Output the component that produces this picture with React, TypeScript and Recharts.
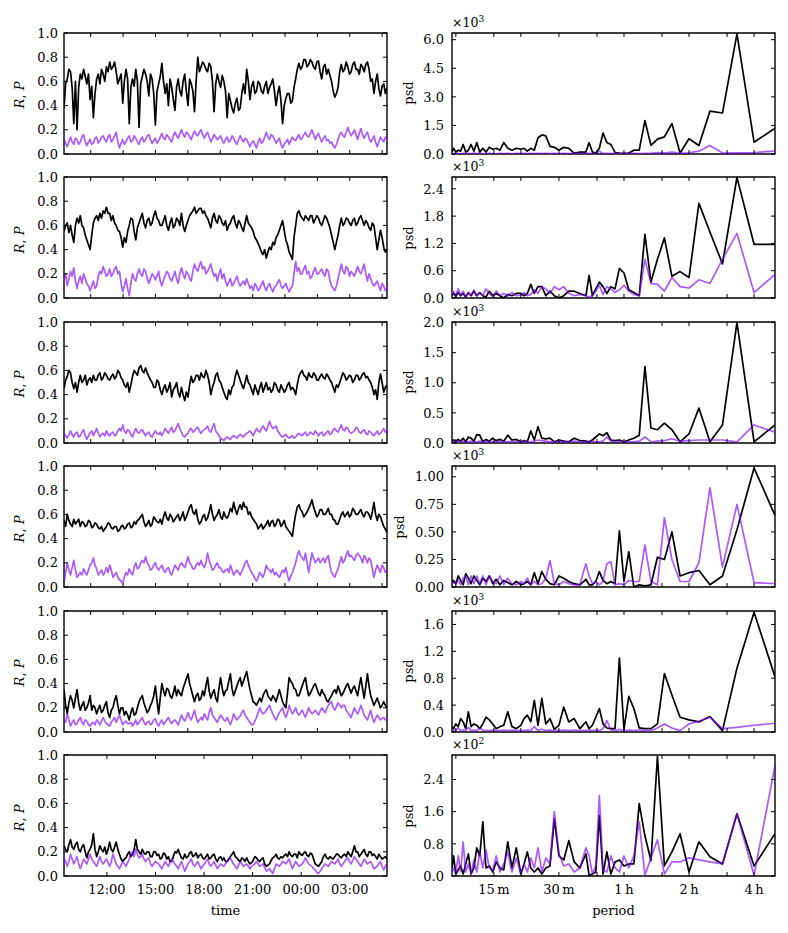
import { Line, LineChart, ReferenceArea, XAxis, YAxis } from "recharts";

// time axis, clock hours (24 + h past midnight)
const HOURS_START = 9.35;
const HOURS_END = 29.3;
const TIME_TICKS_UPPER = [11, 13, 15, 17, 19, 21, 23, 25, 27, 29];
const TIME_TICKS = [12, 15, 18, 21, 24, 27];
const TIME_LABELS = ["12:00", "15:00", "18:00", "21:00", "00:00", "03:00"];

// R (black) and P (purple) per row
const R1 = [
  0.38, 0.58, 0.62, 0.7, 0.68, 0.55, 0.25, 0.6, 0.2, 0.55,
  0.66, 0.62, 0.7, 0.64, 0.58, 0.66, 0.45, 0.56, 0.3, 0.5,
  0.62, 0.66, 0.58, 0.7, 0.66, 0.6, 0.72, 0.68, 0.76, 0.7,
  0.72, 0.76, 0.68, 0.58, 0.62, 0.66, 0.42, 0.6, 0.7, 0.62,
  0.25, 0.55, 0.62, 0.56, 0.7, 0.6, 0.22, 0.58, 0.64, 0.7,
  0.66, 0.6, 0.48, 0.66, 0.62, 0.5, 0.24, 0.52, 0.58, 0.64,
  0.75, 0.6, 0.5, 0.58, 0.4, 0.62, 0.55, 0.45, 0.36, 0.55,
  0.62, 0.52, 0.48, 0.6, 0.66, 0.52, 0.4, 0.62, 0.58, 0.52,
  0.35, 0.6, 0.8, 0.68, 0.72, 0.76, 0.74, 0.7, 0.68, 0.75,
  0.72, 0.6, 0.35, 0.58, 0.66, 0.6, 0.55, 0.65, 0.6, 0.52,
  0.3, 0.5, 0.44, 0.38, 0.34, 0.42, 0.46, 0.36, 0.38, 0.5,
  0.58, 0.5, 0.7, 0.6, 0.45, 0.56, 0.6, 0.5, 0.52, 0.6,
  0.58, 0.52, 0.5, 0.56, 0.6, 0.5, 0.55, 0.58, 0.62, 0.52,
  0.4, 0.5, 0.56, 0.44, 0.25, 0.4, 0.46, 0.5, 0.5, 0.42,
  0.44, 0.55, 0.62, 0.7, 0.75, 0.7, 0.72, 0.78, 0.78, 0.72,
  0.74, 0.78, 0.76, 0.72, 0.7, 0.76, 0.77, 0.68, 0.62, 0.72,
  0.74, 0.66, 0.7, 0.65, 0.6, 0.52, 0.47, 0.5, 0.55, 0.68,
  0.74, 0.68, 0.7, 0.76, 0.72, 0.66, 0.68, 0.74, 0.76, 0.7,
  0.7, 0.66, 0.74, 0.72, 0.68, 0.74, 0.76, 0.7, 0.6, 0.62,
  0.5, 0.6, 0.66, 0.54, 0.48, 0.56, 0.58, 0.5, 0.55,
];
const P1 = [
  0.12, 0.09, 0.06, 0.1, 0.14, 0.1, 0.08, 0.13, 0.12, 0.08,
  0.1, 0.14, 0.16, 0.1, 0.07, 0.1, 0.12, 0.08, 0.09, 0.13,
  0.14, 0.09, 0.11, 0.14, 0.15, 0.12, 0.1, 0.14, 0.16, 0.1,
  0.12, 0.15, 0.18, 0.1, 0.05, 0.09, 0.12, 0.08, 0.1, 0.13,
  0.15, 0.1, 0.11, 0.15, 0.13, 0.1, 0.08, 0.12, 0.14, 0.1,
  0.12, 0.15, 0.16, 0.12, 0.09, 0.11, 0.13, 0.09, 0.11, 0.14,
  0.17, 0.13, 0.12, 0.16, 0.14, 0.12, 0.1, 0.15, 0.18, 0.15,
  0.13, 0.17, 0.2, 0.16, 0.14, 0.18, 0.17, 0.14, 0.12, 0.16,
  0.19, 0.16, 0.15, 0.18, 0.2, 0.16, 0.13, 0.16, 0.18, 0.14,
  0.1, 0.13, 0.16, 0.14, 0.12, 0.13, 0.15, 0.11, 0.09, 0.12,
  0.14, 0.1, 0.11, 0.15, 0.13, 0.1, 0.08, 0.12, 0.15, 0.12,
  0.1, 0.13, 0.12, 0.09, 0.06, 0.09, 0.11, 0.08, 0.05, 0.1,
  0.13, 0.09, 0.1, 0.14, 0.18, 0.14, 0.12, 0.16, 0.15, 0.12,
  0.09, 0.11, 0.13, 0.08, 0.05, 0.08, 0.1, 0.12, 0.08, 0.11,
  0.14, 0.12, 0.11, 0.14, 0.16, 0.12, 0.13, 0.16, 0.18, 0.15,
  0.14, 0.17, 0.2, 0.16, 0.12, 0.15, 0.17, 0.13, 0.1, 0.13,
  0.15, 0.11, 0.12, 0.09, 0.1, 0.07, 0.05, 0.08, 0.12, 0.16,
  0.18, 0.15, 0.14, 0.18, 0.22, 0.18, 0.15, 0.17, 0.2, 0.16,
  0.12, 0.17, 0.21, 0.16, 0.13, 0.16, 0.18, 0.13, 0.1, 0.12,
  0.15, 0.1, 0.06, 0.1, 0.14, 0.12, 0.1, 0.14, 0.12,
];
const R2 = [
  0.55, 0.6, 0.62, 0.54, 0.6, 0.52, 0.46, 0.6, 0.66, 0.62,
  0.68, 0.6, 0.58, 0.52, 0.48, 0.44, 0.4, 0.52, 0.62, 0.66,
  0.68, 0.64, 0.7, 0.66, 0.72, 0.7, 0.75, 0.7, 0.7, 0.64,
  0.68, 0.62, 0.6, 0.56, 0.55, 0.5, 0.42, 0.5, 0.46, 0.55,
  0.6, 0.66, 0.65, 0.55, 0.48, 0.58, 0.62, 0.66, 0.7, 0.62,
  0.58, 0.64, 0.66, 0.6, 0.62, 0.68, 0.72, 0.66, 0.64, 0.6,
  0.6, 0.64, 0.68, 0.6, 0.56, 0.62, 0.66, 0.58, 0.6, 0.66,
  0.64, 0.6, 0.7, 0.6, 0.55, 0.6, 0.64, 0.68, 0.7, 0.72,
  0.75, 0.7, 0.72, 0.74, 0.74, 0.7, 0.72, 0.68, 0.66, 0.62,
  0.58, 0.66, 0.7, 0.64, 0.62, 0.68, 0.66, 0.62, 0.6, 0.64,
  0.56, 0.6, 0.62, 0.66, 0.68, 0.62, 0.58, 0.64, 0.62, 0.58,
  0.55, 0.62, 0.68, 0.62, 0.6, 0.58, 0.55, 0.5, 0.48, 0.45,
  0.42, 0.38, 0.36, 0.4, 0.33, 0.38, 0.42, 0.4, 0.46, 0.44,
  0.5, 0.52, 0.56, 0.6, 0.64, 0.56, 0.48, 0.44, 0.38, 0.35,
  0.32, 0.5, 0.6, 0.7, 0.72, 0.68, 0.66, 0.64, 0.68, 0.66,
  0.64, 0.68, 0.68, 0.62, 0.65, 0.68, 0.66, 0.62, 0.6, 0.64,
  0.68, 0.66, 0.62, 0.58, 0.52, 0.46, 0.4, 0.46, 0.52, 0.6,
  0.66, 0.6, 0.62, 0.66, 0.65, 0.62, 0.6, 0.64, 0.66, 0.6,
  0.62, 0.66, 0.68, 0.64, 0.6, 0.64, 0.62, 0.58, 0.56, 0.62,
  0.6, 0.5, 0.4, 0.48, 0.56, 0.5, 0.42, 0.38, 0.4,
];
const P2 = [
  0.15, 0.2, 0.1, 0.16, 0.22, 0.18, 0.25, 0.14, 0.08, 0.14,
  0.18, 0.12, 0.2, 0.16, 0.12, 0.1, 0.06, 0.1, 0.14, 0.08,
  0.1, 0.18, 0.22, 0.2, 0.26, 0.22, 0.18, 0.2, 0.24, 0.18,
  0.2, 0.24, 0.26, 0.2, 0.22, 0.12, 0.05, 0.1, 0.16, 0.08,
  0.02, 0.12, 0.2, 0.16, 0.14, 0.2, 0.24, 0.2, 0.18, 0.24,
  0.22, 0.16, 0.12, 0.16, 0.2, 0.18, 0.15, 0.18, 0.22, 0.14,
  0.1, 0.15, 0.18, 0.22, 0.2, 0.16, 0.14, 0.18, 0.22, 0.16,
  0.12, 0.2, 0.25, 0.2, 0.16, 0.22, 0.2, 0.16, 0.14, 0.22,
  0.28, 0.24, 0.22, 0.27, 0.3, 0.24, 0.26, 0.2, 0.22, 0.25,
  0.28, 0.22, 0.18, 0.2, 0.14, 0.2, 0.24, 0.16, 0.2, 0.14,
  0.1, 0.13, 0.16, 0.1, 0.12, 0.15, 0.18, 0.13, 0.1, 0.12,
  0.14, 0.11, 0.16, 0.12, 0.08, 0.1, 0.06, 0.12, 0.1, 0.06,
  0.08, 0.11, 0.14, 0.09, 0.06, 0.1, 0.12, 0.08, 0.05, 0.09,
  0.1, 0.13, 0.15, 0.1, 0.08, 0.1, 0.12, 0.08, 0.05, 0.08,
  0.1, 0.2, 0.3, 0.22, 0.25, 0.2, 0.2, 0.24, 0.27, 0.2,
  0.22, 0.16, 0.18, 0.22, 0.25, 0.2, 0.2, 0.22, 0.24, 0.2,
  0.18, 0.24, 0.22, 0.14, 0.1, 0.08, 0.06, 0.1, 0.16, 0.22,
  0.28, 0.22, 0.2, 0.26, 0.24, 0.18, 0.22, 0.2, 0.18, 0.22,
  0.26, 0.22, 0.2, 0.24, 0.28, 0.2, 0.14, 0.2, 0.16, 0.12,
  0.1, 0.12, 0.14, 0.1, 0.06, 0.12, 0.1, 0.06, 0.08,
];
const R3 = [
  0.45, 0.52, 0.55, 0.6, 0.58, 0.5, 0.45, 0.5, 0.42, 0.5,
  0.56, 0.5, 0.52, 0.56, 0.48, 0.52, 0.54, 0.5, 0.56, 0.52,
  0.52, 0.56, 0.58, 0.52, 0.54, 0.58, 0.56, 0.53, 0.52, 0.55,
  0.57, 0.53, 0.55, 0.6, 0.58, 0.54, 0.52, 0.48, 0.46, 0.5,
  0.42, 0.48, 0.55, 0.6, 0.58, 0.56, 0.62, 0.64, 0.6, 0.58,
  0.62, 0.58, 0.55, 0.52, 0.5, 0.46, 0.46, 0.52, 0.5, 0.44,
  0.4, 0.45, 0.48, 0.42, 0.45, 0.5, 0.38, 0.44, 0.46, 0.5,
  0.42, 0.38, 0.46, 0.4, 0.35, 0.42, 0.38, 0.48, 0.55, 0.5,
  0.52, 0.56, 0.56, 0.52, 0.58, 0.55, 0.54, 0.6, 0.56, 0.5,
  0.4, 0.46, 0.5, 0.56, 0.58, 0.52, 0.5, 0.46, 0.42, 0.38,
  0.36, 0.44, 0.4, 0.46, 0.48, 0.55, 0.6, 0.56, 0.52, 0.48,
  0.45, 0.5, 0.56, 0.5, 0.48, 0.44, 0.4, 0.48, 0.44, 0.4,
  0.46, 0.5, 0.42, 0.46, 0.5, 0.44, 0.46, 0.42, 0.44, 0.5,
  0.48, 0.44, 0.42, 0.48, 0.45, 0.42, 0.44, 0.48, 0.5, 0.44,
  0.46, 0.44, 0.4, 0.48, 0.55, 0.58, 0.6, 0.56, 0.55, 0.52,
  0.58, 0.55, 0.54, 0.58, 0.56, 0.52, 0.52, 0.55, 0.57, 0.54,
  0.53, 0.57, 0.55, 0.52, 0.5, 0.46, 0.42, 0.48, 0.46, 0.5,
  0.54, 0.58, 0.56, 0.52, 0.54, 0.56, 0.55, 0.5, 0.52, 0.56,
  0.56, 0.52, 0.54, 0.57, 0.58, 0.54, 0.55, 0.52, 0.5, 0.46,
  0.4, 0.44, 0.36, 0.5, 0.57, 0.5, 0.42, 0.46, 0.48,
];
const P3 = [
  0.08, 0.06, 0.04, 0.07, 0.1, 0.07, 0.05, 0.08, 0.09, 0.05,
  0.06, 0.09, 0.11, 0.06, 0.03, 0.06, 0.08, 0.1, 0.06, 0.09,
  0.12, 0.08, 0.05, 0.07, 0.08, 0.06, 0.1, 0.07, 0.06, 0.08,
  0.09, 0.06, 0.07, 0.1, 0.12, 0.1, 0.15, 0.1, 0.08, 0.11,
  0.1, 0.07, 0.05, 0.09, 0.12, 0.09, 0.08, 0.1, 0.11, 0.08,
  0.06, 0.08, 0.09, 0.06, 0.05, 0.08, 0.1, 0.08, 0.07, 0.09,
  0.06, 0.09, 0.12, 0.1, 0.08, 0.11, 0.13, 0.09, 0.1, 0.13,
  0.16, 0.12, 0.09, 0.06, 0.05, 0.07, 0.08, 0.11, 0.12, 0.09,
  0.1, 0.12, 0.13, 0.1, 0.08, 0.1, 0.11, 0.12, 0.14, 0.1,
  0.09, 0.13, 0.16, 0.1, 0.08, 0.06, 0.04, 0.03, 0.02, 0.04,
  0.05, 0.04, 0.03, 0.05, 0.06, 0.05, 0.04, 0.06, 0.07, 0.06,
  0.05, 0.07, 0.08, 0.09, 0.1, 0.08, 0.06, 0.09, 0.12, 0.1,
  0.09, 0.12, 0.14, 0.12, 0.1, 0.14, 0.18, 0.14, 0.12, 0.13,
  0.14, 0.1, 0.08, 0.06, 0.05, 0.06, 0.07, 0.05, 0.04, 0.05,
  0.06, 0.04, 0.05, 0.07, 0.08, 0.07, 0.06, 0.08, 0.09, 0.06,
  0.07, 0.09, 0.08, 0.07, 0.1, 0.08, 0.06, 0.08, 0.09, 0.06,
  0.07, 0.09, 0.1, 0.07, 0.08, 0.11, 0.12, 0.1, 0.09, 0.12,
  0.15, 0.11, 0.1, 0.13, 0.12, 0.09, 0.08, 0.09, 0.1, 0.13,
  0.12, 0.09, 0.08, 0.1, 0.11, 0.08, 0.07, 0.1, 0.09, 0.07,
  0.06, 0.08, 0.1, 0.07, 0.08, 0.1, 0.12, 0.09, 0.1,
];
const R4 = [
  0.55, 0.5, 0.6, 0.55, 0.52, 0.5, 0.56, 0.52, 0.54, 0.56,
  0.5, 0.54, 0.53, 0.5, 0.51, 0.55, 0.54, 0.49, 0.5, 0.53,
  0.52, 0.49, 0.48, 0.5, 0.46, 0.48, 0.5, 0.53, 0.52, 0.49,
  0.48, 0.5, 0.5, 0.46, 0.47, 0.5, 0.51, 0.48, 0.49, 0.52,
  0.53, 0.49, 0.5, 0.54, 0.52, 0.55, 0.56, 0.58, 0.6, 0.54,
  0.5, 0.52, 0.55, 0.5, 0.52, 0.58, 0.56, 0.54, 0.53, 0.56,
  0.52, 0.58, 0.62, 0.57, 0.55, 0.6, 0.58, 0.54, 0.56, 0.58,
  0.6, 0.55, 0.58, 0.62, 0.55, 0.58, 0.62, 0.66, 0.68, 0.62,
  0.6, 0.64, 0.56, 0.52, 0.54, 0.58, 0.6, 0.55, 0.57, 0.62,
  0.68, 0.6, 0.55, 0.58, 0.6, 0.64, 0.58, 0.56, 0.62, 0.58,
  0.57, 0.6, 0.65, 0.62, 0.7, 0.64, 0.6, 0.65, 0.68, 0.64,
  0.7, 0.66, 0.66, 0.6, 0.62, 0.58, 0.56, 0.54, 0.52, 0.48,
  0.5, 0.52, 0.48, 0.5, 0.52, 0.55, 0.5, 0.54, 0.55, 0.5,
  0.52, 0.56, 0.55, 0.5, 0.52, 0.55, 0.5, 0.48, 0.46, 0.44,
  0.42, 0.52, 0.6, 0.66, 0.68, 0.64, 0.62, 0.58, 0.6, 0.62,
  0.65, 0.68, 0.72, 0.66, 0.62, 0.58, 0.6, 0.64, 0.64, 0.6,
  0.6, 0.62, 0.65, 0.6, 0.6, 0.56, 0.55, 0.52, 0.52, 0.56,
  0.6, 0.62, 0.58, 0.6, 0.62, 0.58, 0.6, 0.65, 0.63, 0.6,
  0.6, 0.62, 0.64, 0.6, 0.58, 0.62, 0.62, 0.6, 0.56, 0.62,
  0.7, 0.6, 0.55, 0.6, 0.58, 0.54, 0.5, 0.48, 0.45,
];
const P4 = [
  0.04, 0.12, 0.2, 0.14, 0.1, 0.16, 0.22, 0.14, 0.08, 0.1,
  0.12, 0.1, 0.15, 0.12, 0.1, 0.14, 0.18, 0.2, 0.24, 0.18,
  0.15, 0.1, 0.12, 0.14, 0.1, 0.12, 0.16, 0.12, 0.18, 0.14,
  0.08, 0.1, 0.12, 0.08, 0.06, 0.05, 0.03, 0.08, 0.12, 0.1,
  0.15, 0.12, 0.1, 0.16, 0.2, 0.15, 0.16, 0.2, 0.22, 0.2,
  0.25, 0.2, 0.18, 0.14, 0.15, 0.18, 0.2, 0.16, 0.14, 0.16,
  0.18, 0.14, 0.12, 0.15, 0.16, 0.12, 0.1, 0.14, 0.18, 0.16,
  0.14, 0.18, 0.2, 0.18, 0.16, 0.2, 0.25, 0.2, 0.18, 0.15,
  0.15, 0.18, 0.2, 0.18, 0.22, 0.18, 0.16, 0.2, 0.28, 0.22,
  0.18, 0.14, 0.15, 0.18, 0.2, 0.16, 0.16, 0.13, 0.12, 0.14,
  0.15, 0.12, 0.18, 0.14, 0.1, 0.12, 0.14, 0.12, 0.1, 0.13,
  0.16, 0.2, 0.22, 0.18, 0.15, 0.12, 0.1, 0.07, 0.05, 0.08,
  0.12, 0.1, 0.08, 0.12, 0.18, 0.15, 0.14, 0.12, 0.15, 0.1,
  0.12, 0.1, 0.08, 0.11, 0.14, 0.12, 0.16, 0.1, 0.05, 0.09,
  0.12, 0.16, 0.2, 0.26, 0.3, 0.26, 0.24, 0.22, 0.28, 0.2,
  0.12, 0.2, 0.28, 0.24, 0.2, 0.22, 0.24, 0.2, 0.22, 0.24,
  0.2, 0.24, 0.26, 0.18, 0.12, 0.1, 0.08, 0.12, 0.15, 0.2,
  0.25, 0.2, 0.22, 0.26, 0.3, 0.25, 0.26, 0.24, 0.22, 0.26,
  0.28, 0.26, 0.24, 0.2, 0.26, 0.24, 0.2, 0.24, 0.22, 0.15,
  0.08, 0.14, 0.18, 0.15, 0.12, 0.18, 0.16, 0.12, 0.14,
];
const R5 = [
  0.35, 0.22, 0.15, 0.24, 0.3, 0.26, 0.2, 0.28, 0.35, 0.24,
  0.18, 0.22, 0.25, 0.18, 0.2, 0.24, 0.3, 0.18, 0.22, 0.2,
  0.15, 0.19, 0.22, 0.16, 0.18, 0.22, 0.25, 0.16, 0.12, 0.18,
  0.2, 0.26, 0.3, 0.22, 0.15, 0.2, 0.2, 0.14, 0.17, 0.14,
  0.1, 0.16, 0.2, 0.14, 0.15, 0.2, 0.25, 0.28, 0.3, 0.24,
  0.2, 0.16, 0.18, 0.22, 0.25, 0.3, 0.38, 0.26, 0.15, 0.28,
  0.4, 0.34, 0.3, 0.36, 0.35, 0.3, 0.28, 0.32, 0.38, 0.3,
  0.35, 0.32, 0.3, 0.36, 0.4, 0.44, 0.48, 0.4, 0.35, 0.3,
  0.25, 0.3, 0.32, 0.26, 0.28, 0.34, 0.3, 0.38, 0.45, 0.34,
  0.28, 0.32, 0.35, 0.28, 0.25, 0.36, 0.45, 0.36, 0.3, 0.34,
  0.35, 0.42, 0.48, 0.36, 0.3, 0.34, 0.38, 0.42, 0.45, 0.38,
  0.42, 0.46, 0.5, 0.42, 0.35, 0.3, 0.25, 0.24, 0.22, 0.25,
  0.28, 0.25, 0.3, 0.33, 0.35, 0.3, 0.28, 0.26, 0.3, 0.28,
  0.25, 0.3, 0.35, 0.3, 0.25, 0.22, 0.2, 0.32, 0.45, 0.42,
  0.4, 0.36, 0.35, 0.3, 0.3, 0.34, 0.38, 0.42, 0.45, 0.36,
  0.3, 0.32, 0.35, 0.38, 0.4, 0.36, 0.32, 0.3, 0.35, 0.32,
  0.3, 0.26, 0.25, 0.28, 0.3, 0.33, 0.35, 0.32, 0.38, 0.34,
  0.3, 0.32, 0.35, 0.38, 0.4, 0.36, 0.32, 0.36, 0.38, 0.34,
  0.3, 0.38, 0.45, 0.36, 0.28, 0.38, 0.48, 0.38, 0.3, 0.26,
  0.22, 0.25, 0.28, 0.24, 0.2, 0.22, 0.25, 0.22, 0.2,
];
const P5 = [
  0.1, 0.08, 0.15, 0.1, 0.05, 0.08, 0.1, 0.06, 0.07, 0.1,
  0.12, 0.08, 0.06, 0.1, 0.09, 0.06, 0.05, 0.07, 0.08, 0.06,
  0.1, 0.08, 0.06, 0.09, 0.12, 0.09, 0.07, 0.06, 0.05, 0.08,
  0.1, 0.12, 0.08, 0.11, 0.14, 0.1, 0.06, 0.08, 0.09, 0.07,
  0.07, 0.08, 0.05, 0.07, 0.1, 0.06, 0.08, 0.1, 0.12, 0.08,
  0.06, 0.08, 0.09, 0.06, 0.07, 0.1, 0.11, 0.07, 0.05, 0.08,
  0.1, 0.06, 0.08, 0.1, 0.12, 0.09, 0.07, 0.09, 0.1, 0.08,
  0.06, 0.1, 0.14, 0.11, 0.09, 0.12, 0.16, 0.12, 0.1, 0.14,
  0.18, 0.12, 0.08, 0.1, 0.12, 0.1, 0.15, 0.12, 0.1, 0.16,
  0.2, 0.14, 0.12, 0.1, 0.08, 0.11, 0.14, 0.12, 0.1, 0.09,
  0.12, 0.09, 0.06, 0.1, 0.15, 0.12, 0.1, 0.12, 0.13, 0.16,
  0.18, 0.14, 0.12, 0.1, 0.08, 0.06, 0.06, 0.09, 0.12, 0.16,
  0.2, 0.17, 0.15, 0.16, 0.18, 0.2, 0.22, 0.18, 0.15, 0.12,
  0.1, 0.13, 0.16, 0.18, 0.2, 0.15, 0.12, 0.16, 0.22, 0.18,
  0.15, 0.17, 0.2, 0.16, 0.14, 0.16, 0.18, 0.15, 0.12, 0.16,
  0.2, 0.17, 0.15, 0.16, 0.18, 0.16, 0.14, 0.17, 0.2, 0.18,
  0.16, 0.19, 0.22, 0.24, 0.25, 0.2, 0.18, 0.21, 0.24, 0.22,
  0.2, 0.22, 0.22, 0.18, 0.16, 0.14, 0.12, 0.16, 0.2, 0.17,
  0.15, 0.18, 0.22, 0.18, 0.14, 0.12, 0.1, 0.14, 0.18, 0.12,
  0.08, 0.11, 0.14, 0.12, 0.1, 0.11, 0.12, 0.1, 0.11,
];
const R6 = [
  0.25, 0.22, 0.2, 0.26, 0.3, 0.24, 0.22, 0.26, 0.28, 0.22,
  0.2, 0.24, 0.26, 0.2, 0.15, 0.2, 0.22, 0.26, 0.35, 0.22,
  0.16, 0.2, 0.25, 0.22, 0.2, 0.24, 0.18, 0.22, 0.28, 0.22,
  0.2, 0.24, 0.28, 0.22, 0.18, 0.14, 0.12, 0.14, 0.15, 0.18,
  0.2, 0.16, 0.18, 0.22, 0.3, 0.22, 0.2, 0.18, 0.22, 0.19,
  0.18, 0.2, 0.2, 0.16, 0.16, 0.2, 0.2, 0.17, 0.18, 0.14,
  0.15, 0.19, 0.18, 0.14, 0.16, 0.12, 0.12, 0.16, 0.2, 0.19,
  0.22, 0.18, 0.15, 0.14, 0.18, 0.15, 0.16, 0.19, 0.2, 0.16,
  0.17, 0.19, 0.15, 0.17, 0.18, 0.15, 0.14, 0.16, 0.18, 0.14,
  0.15, 0.17, 0.18, 0.14, 0.12, 0.15, 0.16, 0.13, 0.15, 0.12,
  0.12, 0.14, 0.16, 0.18, 0.2, 0.16, 0.15, 0.13, 0.12, 0.15,
  0.14, 0.12, 0.15, 0.12, 0.1, 0.11, 0.13, 0.16, 0.15, 0.13,
  0.12, 0.14, 0.15, 0.1, 0.08, 0.09, 0.1, 0.13, 0.15, 0.16,
  0.18, 0.15, 0.14, 0.16, 0.15, 0.17, 0.18, 0.16, 0.2, 0.17,
  0.16, 0.18, 0.18, 0.15, 0.2, 0.18, 0.17, 0.19, 0.2, 0.17,
  0.16, 0.19, 0.18, 0.14, 0.1, 0.09, 0.08, 0.1, 0.12, 0.16,
  0.18, 0.15, 0.14, 0.16, 0.15, 0.14, 0.16, 0.18, 0.18, 0.16,
  0.15, 0.17, 0.18, 0.16, 0.2, 0.18, 0.16, 0.2, 0.25, 0.2,
  0.2, 0.16, 0.18, 0.2, 0.22, 0.18, 0.16, 0.2, 0.2, 0.17,
  0.18, 0.16, 0.14, 0.18, 0.16, 0.14, 0.15, 0.16, 0.14,
];
const P6 = [
  0.15, 0.12, 0.08, 0.12, 0.18, 0.14, 0.1, 0.13, 0.16, 0.1,
  0.06, 0.1, 0.14, 0.12, 0.1, 0.14, 0.18, 0.14, 0.12, 0.1,
  0.08, 0.12, 0.16, 0.12, 0.1, 0.12, 0.14, 0.11, 0.08, 0.12,
  0.18, 0.14, 0.1, 0.08, 0.06, 0.09, 0.12, 0.1, 0.08, 0.11,
  0.14, 0.18, 0.2, 0.16, 0.22, 0.18, 0.15, 0.16, 0.18, 0.14,
  0.12, 0.14, 0.15, 0.1, 0.08, 0.1, 0.12, 0.11, 0.1, 0.08,
  0.06, 0.09, 0.12, 0.1, 0.08, 0.11, 0.14, 0.12, 0.1, 0.08,
  0.06, 0.09, 0.12, 0.08, 0.04, 0.07, 0.1, 0.12, 0.14, 0.1,
  0.08, 0.1, 0.12, 0.09, 0.06, 0.08, 0.1, 0.12, 0.14, 0.1,
  0.08, 0.1, 0.12, 0.09, 0.06, 0.08, 0.1, 0.09, 0.08, 0.1,
  0.12, 0.14, 0.15, 0.12, 0.1, 0.08, 0.06, 0.09, 0.12, 0.1,
  0.08, 0.09, 0.1, 0.08, 0.06, 0.08, 0.09, 0.1, 0.12, 0.1,
  0.08, 0.09, 0.1, 0.07, 0.04, 0.05, 0.06, 0.04, 0.02, 0.06,
  0.1, 0.09, 0.08, 0.1, 0.12, 0.11, 0.1, 0.12, 0.14, 0.1,
  0.06, 0.09, 0.12, 0.1, 0.08, 0.09, 0.1, 0.12, 0.15, 0.12,
  0.1, 0.09, 0.08, 0.06, 0.05, 0.03, 0.02, 0.04, 0.06, 0.08,
  0.1, 0.09, 0.08, 0.1, 0.12, 0.11, 0.1, 0.12, 0.14, 0.1,
  0.08, 0.1, 0.12, 0.14, 0.15, 0.12, 0.1, 0.13, 0.16, 0.14,
  0.12, 0.1, 0.08, 0.11, 0.14, 0.12, 0.1, 0.11, 0.12, 0.09,
  0.06, 0.07, 0.08, 0.1, 0.12, 0.08, 0.05, 0.08, 0.1,
];

// spectrum: harmonic k of a 1200 min record -> period 1200/k minutes
const RECORD_MINUTES = 1200;
const HARMONICS = [
  4, 5, 6, 7, 8, 9, 10, 11, 12, 13, 14, 15, 16, 17, 18, 19, 20, 21, 22, 23,
  24, 25, 26, 27, 28, 29, 30, 32, 34, 36, 38, 40, 42, 44, 46, 48, 50, 52, 54,
  56, 58, 60, 63, 66, 69, 72, 75, 78, 81, 84, 87, 90, 93, 96, 99, 102, 105,
  108, 111, 114, 117, 120, 123, 125,
];
const PERIOD_TICKS = [10, 15, 20, 30, 45, 60, 90, 120, 180, 240];
const PERIOD_LABELS: Record<number, string> = {
  15: "15\u2009m",
  30: "30\u2009m",
  60: "1\u2009h",
  120: "2\u2009h",
  240: "4\u2009h",
};

const PSD_R1 = [
  1350, 620, 6300, 2150, 2250, 450, 800, 50, 1600, 900,
  780, 450, 1750, 200, 200, 50, 30, 50, 80, 500,
  600, 1100, 300, 50, 100, 600, 100,
  100, 50, 300, 350, 200, 350, 400, 950, 1000, 850, 200, 300, 150, 300, 250,
  300, 200, 300, 600, 200, 300, 250, 350, 100, 300, 100, 600, 150, 500, 200,
  100, 500, 150, 200, 100, 300, 100,
];
const PSD_P1 = [
  150, 80, 60, 50, 450, 150, 60, 40, 100, 50,
  80, 40, 30, 20, 30, 20, 30, 20, 30, 20,
  30, 20, 150, 40, 20, 30, 20,
  20, 30, 20, 30, 20, 40, 20, 30, 20, 30, 20, 30, 20, 30, 20,
  30, 10, 40, 20, 30, 10, 20, 40, 20, 10, 30, 20, 50, 10, 30, 20, 40, 10, 20,
  30, 20, 40,
];
const PSD_R2 = [
  1180, 1180, 2650, 750, 1450, 2080, 450, 580, 480, 1320,
  850, 350, 1400, 50, 120, 180, 550, 650, 200, 250,
  100, 250, 350, 200, 50, 500, 50,
  100, 150, 150, 50, 0, 50, 150, 50, 250, 250, 100, 300, 100, 50, 100,
  100, 50, 80, 0, 50, 100, 50, 150, 20, 50, 120, 50, 150, 50, 120, 20, 100,
  50, 120, 40, 100, 60,
];
const PSD_P2 = [
  520, 120, 1420, 850, 320, 400, 220, 250, 450, 150,
  300, 320, 850, 50, 80, 150, 280, 180, 120, 200,
  250, 80, 280, 150, 50, 20, 50,
  80, 50, 100, 250, 180, 250, 100, 200, 250, 100, 180, 80, 50, 120, 60,
  50, 120, 40, 100, 60, 150, 30, 100, 200, 50, 120, 40, 180, 60, 100, 30, 150,
  50, 200, 50, 150, 80,
];
const PSD_R3 = [
  300, 20, 2000, 300, 20, 580, 150, 20, 220, 330,
  220, 250, 1270, 130, 80, 50, 20, 50, 40, 50,
  170, 120, 150, 100, 50, 20, 30,
  40, 80, 20, 30, 50, 20, 80, 70, 80, 270, 50, 200, 20, 40, 20,
  60, 50, 130, 30, 60, 40, 80, 30, 60, 20, 130, 140, 30, 80, 100, 20, 80, 30,
  60, 20, 50, 30,
];
const PSD_P3 = [
  180, 300, 20, 50, 50, 50, 40, 30, 70, 40,
  30, 20, 100, 30, 20, 20, 20, 30, 20, 30,
  100, 30, 20, 20, 30, 20, 20,
  20, 30, 20, 20, 30, 20, 20, 30, 40, 50, 30, 20, 20, 30, 20,
  20, 30, 20, 20, 30, 20, 20, 30, 20, 20, 30, 20, 20, 30, 20, 20, 30, 20, 20,
  30, 20, 20,
];
const PSD_R4 = [
  650, 1080, 520, 100, 20, 150, 130, 100, 500, 250,
  270, 20, 10, 20, 0, 320, 50, 510, 30, 50,
  30, 60, 140, 50, 20, 20, 70,
  20, 30, 50, 80, 100, 20, 30, 70, 140, 30, 130, 20, 50, 30, 20,
  50, 20, 40, 60, 20, 70, 30, 100, 50, 80, 20, 60, 100, 30, 80, 120, 20, 60,
  100, 30, 60, 40,
];
const PSD_P4 = [
  30, 40, 750, 180, 900, 220, 50, 50, 250, 630,
  20, 50, 380, 50, 50, 60, 20, 30, 20, 230,
  210, 50, 20, 50, 30, 100, 210,
  20, 20, 30, 50, 20, 30, 240, 80, 30, 20, 50, 20, 80, 30, 50,
  20, 30, 80, 20, 100, 30, 50, 100, 20, 100, 30, 100, 30, 100, 20, 100, 80,
  20, 60, 30, 40, 20,
];
const PSD_R5 = [
  820, 1780, 950, 20, 230, 150, 180, 220, 550, 870,
  120, 50, 50, 60, 350, 530, 40, 1100, 50, 50,
  60, 120, 350, 220, 100, 50, 150,
  50, 200, 150, 370, 100, 40, 200, 120, 500, 100, 470, 150, 250, 200, 100,
  50, 80, 300, 100, 80, 50, 120, 180, 220, 120, 50, 100, 120, 80, 300, 50, 150,
  200, 80, 120, 50, 80,
];
const PSD_P5 = [
  130, 100, 70, 50, 220, 160, 120, 20, 60, 120,
  60, 20, 20, 30, 20, 30, 20, 40, 20, 30,
  170, 50, 20, 30, 20, 30, 20,
  20, 30, 20, 30, 20, 20, 30, 20, 40, 20, 80, 20, 30, 20, 20,
  20, 30, 20, 30, 20, 20, 30, 20, 20, 30, 60, 20, 30, 20, 70, 20, 30, 20, 60,
  20, 30, 20,
];
const PSD_R6 = [
  105, 25, 155, 30, 48, 85, 10, 105, 60, 25,
  297, 38, 100, 180, 30, 30, 25, 40, 35, 5,
  60, 5, 150, 10, 5, 2, 55,
  20, 35, 88, 40, 50, 142, 25, 20, 5, 20, 10, 20, 60, 30, 5,
  70, 20, 85, 15, 20, 35, 10, 25, 20, 135, 50, 70, 20, 5, 55, 30, 5, 25, 15,
  5, 50, 20,
];
const PSD_P6 = [
  275, 2, 155, 30, 35, 40, 45, 35, 35, 5,
  90, 45, 2, 135, 50, 20, 50, 10, 20, 50,
  10, 15, 200, 25, 5, 50, 70,
  20, 10, 30, 25, 55, 160, 30, 45, 10, 70, 20, 45, 10, 30, 5,
  45, 10, 60, 30, 10, 50, 15, 20, 65, 20, 60, 10, 40, 5, 30, 10, 85, 10, 50,
  5, 20, 10,
];

const R_SERIES = [R1, R2, R3, R4, R5, R6];
const P_SERIES = [P1, P2, P3, P4, P5, P6];
const PSD_R = [PSD_R1, PSD_R2, PSD_R3, PSD_R4, PSD_R5, PSD_R6];
const PSD_P = [PSD_P1, PSD_P2, PSD_P3, PSD_P4, PSD_P5, PSD_P6];

const RP_TICKS = [0, 0.2, 0.4, 0.6, 0.8, 1.0];
const PSD_MAX = [6350, 2660, 2010, 1098, 1800, 301];
const PSD_TICKS = [
  [0, 1500, 3000, 4500, 6000],
  [0, 600, 1200, 1800, 2400],
  [0, 500, 1000, 1500, 2000],
  [0, 250, 500, 750, 1000],
  [0, 400, 800, 1200, 1600],
  [0, 80, 160, 240],
];
const PSD_EXP = [3, 3, 3, 3, 3, 2];
const PSD_DECIMALS = [1, 1, 1, 2, 1, 1];

const BLACK = "#000000";
const PURPLE = "#8000ff";
const FONT = "'DejaVu Serif', serif";

// layout
const ROW_TOP = 32.7;
const ROW_STEP = 144.5;
const PLOT_H = 121;
const PLOT_W = 323;
const LEFT_X = 64;
const RIGHT_X = 452;
const ML = 50;
const MT = 10;
const MR = 10;
const MB = 26;

const timeTable = (r: number[], p: number[]) =>
  r.map((v, i) => ({
    t: HOURS_START + (i * (HOURS_END - HOURS_START)) / (r.length - 1),
    r: v,
    p: p[i],
  }));

const psdTable = (r: number[], p: number[]) =>
  HARMONICS.map((k, i) => ({ period: RECORD_MINUTES / k, r: r[i], p: p[i] }));

const makeXTick = (label: (v: number) => string) => (props: any) => {
  const { x, payload } = props;
  const bottom = MT + PLOT_H;
  const text = label(payload.value);
  return (
    <g>
      <line x1={x} x2={x} y1={bottom} y2={bottom - 4} stroke={BLACK} strokeWidth={1} />
      <line x1={x} x2={x} y1={MT} y2={MT + 4} stroke={BLACK} strokeWidth={1} />
      {text ? (
        <text x={x} y={bottom + 18} textAnchor="middle" fontFamily={FONT} fontSize={13} fill={BLACK}>
          {text}
        </text>
      ) : null}
    </g>
  );
};

const makeYTick = (label: (v: number) => string, gap: number) => (props: any) => {
  const { y, payload } = props;
  return (
    <g>
      <line x1={ML} x2={ML + 4} y1={y} y2={y} stroke={BLACK} strokeWidth={1} />
      <line x1={ML + PLOT_W} x2={ML + PLOT_W - 4} y1={y} y2={y} stroke={BLACK} strokeWidth={1} />
      <text x={ML - gap} y={y} dy="0.36em" textAnchor="end" fontFamily={FONT} fontSize={13} fill={BLACK}>
        {label(payload.value)}
      </text>
    </g>
  );
};

interface PanelProps {
  left: number;
  top: number;
  data: any[];
  xKey: string;
  xScale: "linear" | "log";
  xDomain: [number, number];
  xTicks: number[];
  xLabel: (v: number) => string;
  yDomain: [number, number];
  yTicks: number[];
  yLabel: (v: number) => string;
  yGap: number;
}

function Panel(p: PanelProps) {
  return (
    <div style={{ position: "absolute", left: p.left - ML, top: p.top - MT }}>
      <LineChart
        width={ML + PLOT_W + MR}
        height={MT + PLOT_H + MB}
        data={p.data}
        margin={{ top: MT, right: MR, bottom: 0, left: 0 }}>
        <XAxis
          dataKey={p.xKey}
          type="number"
          scale={p.xScale}
          domain={p.xDomain}
          ticks={p.xTicks}
          interval={0}
          allowDataOverflow
          height={MB}
          tickSize={0}
          tickMargin={0}
          tickLine={false}
          axisLine={false}
          tick={makeXTick(p.xLabel)}
        />
        <YAxis
          type="number"
          domain={p.yDomain}
          ticks={p.yTicks}
          interval={0}
          allowDataOverflow
          width={ML}
          tickSize={0}
          tickMargin={0}
          tickLine={false}
          axisLine={false}
          tick={makeYTick(p.yLabel, p.yGap)}
        />
        <ReferenceArea
          x1={p.xDomain[0]}
          x2={p.xDomain[1]}
          y1={p.yDomain[0]}
          y2={p.yDomain[1]}
          fill="none"
          stroke={BLACK}
          strokeWidth={1.4}
          ifOverflow="visible"
        />
        <Line
          dataKey="r"
          type="linear"
          stroke={BLACK}
          strokeWidth={1.7}
          strokeLinejoin="round"
          dot={false}
          isAnimationActive={false}
        />
        <Line
          dataKey="p"
          type="linear"
          stroke={PURPLE}
          strokeOpacity={0.65}
          strokeWidth={1.7}
          strokeLinejoin="round"
          dot={false}
          isAnimationActive={false}
        />
      </LineChart>
    </div>
  );
}

const rotated = (x: number, y: number, children: any) => (
  <div
    style={{
      position: "absolute",
      left: x,
      top: y,
      transform: "translate(-50%, -50%) rotate(-90deg)",
      whiteSpace: "nowrap",
      fontFamily: FONT,
      fontSize: 13,
      lineHeight: 1,
    }}>
    {children}
  </div>
);

export default function App() {
  return (
    <div
      style={{
        position: "absolute",
        left: 0,
        top: 0,
        width: 788,
        height: 933,
        background: "#fff",
        fontFamily: FONT,
      }}>
      {R_SERIES.map((r, i) => {
        const top = ROW_TOP + i * ROW_STEP;
        const last = i === R_SERIES.length - 1;
        const exp = PSD_EXP[i];
        // wider tick labels push the psd label further left
        const psdX = PSD_DECIMALS[i] > 1 ? 399 : 408;
        return (
          <div key={i}>
            <Panel
              left={LEFT_X}
              top={top}
              data={timeTable(r, P_SERIES[i])}
              xKey="t"
              xScale="linear"
              xDomain={[HOURS_START, HOURS_END]}
              xTicks={last ? TIME_TICKS : TIME_TICKS_UPPER}
              xLabel={(v) => (last ? TIME_LABELS[TIME_TICKS.indexOf(v)] : "")}
              yDomain={[0, 1]}
              yTicks={RP_TICKS}
              yLabel={(v) => v.toFixed(1)}
              yGap={6}
            />
            <Panel
              left={RIGHT_X}
              top={top}
              data={psdTable(PSD_R[i], PSD_P[i])}
              xKey="period"
              xScale="log"
              xDomain={[9.6, 300]}
              xTicks={PERIOD_TICKS}
              xLabel={(v) => (last ? PERIOD_LABELS[v] || "" : "")}
              yDomain={[0, PSD_MAX[i]]}
              yTicks={PSD_TICKS[i]}
              yLabel={(v) => (v / Math.pow(10, exp)).toFixed(PSD_DECIMALS[i])}
              yGap={8}
            />
            {rotated(19, top + PLOT_H / 2 + 2, (
              <span>
                <i>R</i>, <i>P</i>
              </span>
            ))}
            {rotated(psdX, top + PLOT_H / 2, "psd")}
            <div
              style={{
                position: "absolute",
                left: RIGHT_X,
                top: top - 16,
                fontSize: 12.5,
                lineHeight: 1,
                whiteSpace: "nowrap",
              }}>
              ×10
              <span style={{ fontSize: 9, position: "relative", top: -5 }}>{exp}</span>
            </div>
          </div>
        );
      })}
      <div
        style={{
          position: "absolute",
          left: LEFT_X + PLOT_W / 2,
          top: 904,
          transform: "translateX(-50%)",
          fontSize: 13,
          lineHeight: 1,
        }}>
        time
      </div>
      <div
        style={{
          position: "absolute",
          left: RIGHT_X + PLOT_W / 2,
          top: 904,
          transform: "translateX(-50%)",
          fontSize: 13,
          lineHeight: 1,
        }}>
        period
      </div>
    </div>
  );
}
